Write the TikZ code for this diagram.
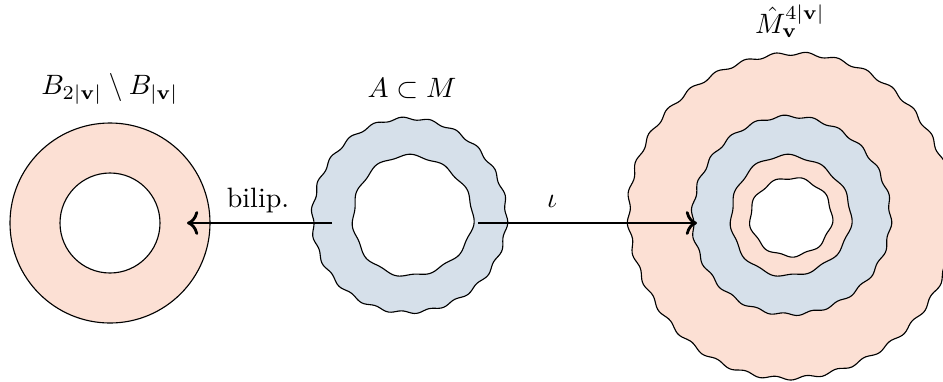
\documentclass[tikz,border=0pt]{standalone}
\usetikzlibrary{arrows.meta}
\definecolor{pinkfill}{RGB}{252,224,212}
\definecolor{bluefill}{RGB}{214,224,234}
\tikzset{
  ring/.style={draw=black, line width=0.4pt},
  conn/.style={-{To[length=4pt,width=8.5pt]}, line width=1pt},
}
\begin{document}
\begin{tikzpicture}[x=0.357pt,y=-0.357pt]
\useasboundingbox (0,0) rectangle (943,381);
% left annulus
\draw[ring, fill=pinkfill] (110,223) circle[radius=100];
\draw[ring, fill=white] (110,223) circle[radius=50];
% middle annulus
\draw[ring, fill=bluefill] plot[smooth cycle, samples=240, domain=0:358.5]
  ({409+(97+1.4*sin(22*\x)+0.8*sin(3*\x+40))*cos(\x)}, {216+(97+1.4*sin(22*\x)+0.8*sin(3*\x+40))*sin(\x)});
\draw[ring, fill=white] plot[smooth cycle, samples=180, domain=0:358]
  ({412+(60+1.3*sin(11*\x+15)+1.2*sin(3*\x+70))*cos(\x)}, {216+(60+1.3*sin(11*\x+15)+1.2*sin(3*\x+70))*sin(\x)});
% right nested annuli
\draw[ring, fill=pinkfill] plot[smooth cycle, samples=360, domain=0:359]
  ({791+(162+1.7*sin(33*\x)+1.0*sin(4*\x+20))*cos(\x)}, {216+(162+1.7*sin(33*\x)+1.0*sin(4*\x+20))*sin(\x)});
\draw[ring, fill=bluefill] plot[smooth cycle, samples=240, domain=0:358.5]
  ({791+(99+1.4*sin(22*\x)+0.8*sin(3*\x+40))*cos(\x)}, {216+(99+1.4*sin(22*\x)+0.8*sin(3*\x+40))*sin(\x)});
\draw[ring, fill=pinkfill] plot[smooth cycle, samples=180, domain=0:358]
  ({790+(60+1.3*sin(11*\x+15)+1.2*sin(3*\x+70))*cos(\x)}, {216+(60+1.3*sin(11*\x+15)+1.2*sin(3*\x+70))*sin(\x)});
\draw[ring, fill=white] plot[smooth cycle, samples=180, domain=0:358]
  ({791+(40+1.2*sin(9*\x+30)+1.0*sin(2*\x+100))*cos(\x)}, {217+(40+1.2*sin(9*\x+30)+1.0*sin(2*\x+100))*sin(\x)});
% labels
\node (lL) at (110,89) {$B_{2|\mathbf{v}|}\setminus B_{|\mathbf{v}|}$};
\node (lM) at (412,88) {$A\subset M$};
\node (lR) at (790,21) {$\hat{M}^{4|\mathbf{v}|}_{\mathbf{v}}$};
\node[anchor=base] (tb) at (258,207) {bilip.};
\node[anchor=base] (ti) at (552,207) {$\iota$};
% connectors
\coordinate (bS) at (332,223);
\coordinate (bE) at (187,223);
\coordinate (iS) at (478,223);
\coordinate (iE) at (697,223);
\draw[conn] (bS) -- (bE);
\draw[conn] (iS) -- (iE);
\end{tikzpicture}
\end{document}
